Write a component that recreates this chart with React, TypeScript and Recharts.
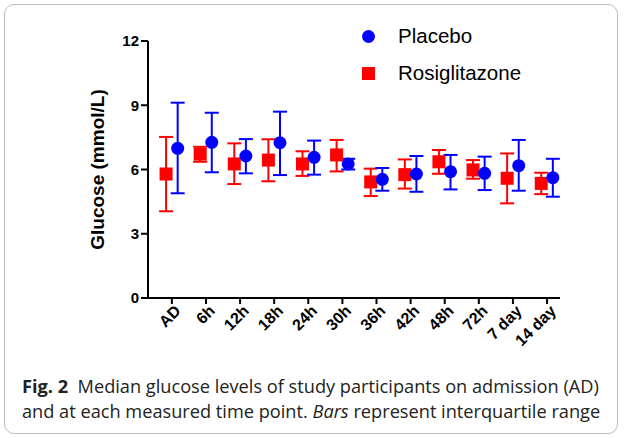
import React from "react";
import { ComposedChart, Scatter, ErrorBar, XAxis, YAxis } from "recharts";

const timePoints = ["AD", "6h", "12h", "18h", "24h", "30h", "36h", "42h", "48h", "72h", "7 day", "14 day"];

// median, lower quartile, upper quartile
const placeboMedian = [6.99, 7.27, 6.63, 7.25, 6.57, 6.26, 5.54, 5.79, 5.9, 5.82, 6.18, 5.62];
const placeboLow = [4.89, 5.87, 5.82, 5.74, 5.76, 6.0, 5.01, 4.96, 5.07, 5.04, 5.01, 4.73];
const placeboHigh = [9.12, 8.65, 7.42, 8.7, 7.35, 6.5, 6.07, 6.63, 6.68, 6.6, 7.38, 6.5];

const rosiMedian = [5.79, 6.72, 6.26, 6.44, 6.26, 6.68, 5.42, 5.76, 6.36, 5.98, 5.59, 5.35];
const rosiLow = [4.05, 6.36, 5.32, 5.45, 5.7, 5.91, 4.76, 5.11, 5.8, 5.57, 4.42, 4.85];
const rosiHigh = [7.52, 7.06, 7.22, 7.41, 6.85, 7.38, 6.04, 6.47, 6.91, 6.44, 6.75, 5.85];

const yTicks = [0, 3, 6, 9, 12];
const OFFSET = 0.17;

const placeboData = placeboMedian.map((m, i) => ({
  x: i + OFFSET, y: m, err: [m - placeboLow[i], placeboHigh[i] - m],
}));
const rosiData = rosiMedian.map((m, i) => ({
  x: i - OFFSET, y: m, err: [m - rosiLow[i], rosiHigh[i] - m],
}));

const font = "'Open Sans', Arial, sans-serif";
const chartFont = "Arial, 'Liberation Sans', sans-serif";

const Dot = (p: any) => <circle cx={p.cx} cy={p.cy} r={6.5} fill="#0000ff" />;
const Square = (p: any) => <rect x={p.cx - 6.5} y={p.cy - 6.5} width={13} height={13} fill="#ff0000" />;

const XTick = (p: any) => {
  const { x, y, payload } = p;
  const tx = x + 6;
  const ty = y + 2;
  return (
    <text x={tx} y={ty} transform={`rotate(-45 ${tx} ${ty})`} textAnchor="end"
      dominantBaseline="central" fontSize={16} fontWeight="bold" fill="#000" fontFamily={chartFont}>
      {timePoints[payload.value]}
    </text>
  );
};

export default function App() {
  return (
    <div style={{ position: "absolute", left: 0, top: 0, width: 624, height: 438, background: "#fff" }}>
      <div style={{ position: "absolute", left: 4, top: 4, width: 612, height: 428, border: "1px solid #bbb", borderRadius: 10 }} />
      <ComposedChart width={600} height={380} margin={{ top: 41, right: 40, bottom: 22, left: 0 }}
        style={{ position: "absolute", left: 0, top: 0 }}>
        <XAxis type="number" dataKey="x" domain={[-0.7, 11.38]} ticks={timePoints.map((_, i) => i)}
          allowDataOverflow interval={0} height={60} tick={<XTick />} tickSize={6}
          axisLine={{ stroke: "#000", strokeWidth: 2 }} tickLine={{ stroke: "#000", strokeWidth: 2 }} />
        <YAxis type="number" domain={[0, 12]} ticks={yTicks} width={148} tickSize={7}
          tick={{ fontSize: 15, fontWeight: "bold", fill: "#000", fontFamily: chartFont }}
          axisLine={{ stroke: "#000", strokeWidth: 2 }} tickLine={{ stroke: "#000", strokeWidth: 2 }}
          label={{ value: "Glucose (mmol/L)", angle: -90, position: "insideLeft", dx: 92,
            style: { fontSize: 19, fontWeight: "bold", fill: "#000", fontFamily: chartFont, textAnchor: "middle" } }} />
        <Scatter data={rosiData} dataKey="y" shape={<Square />} isAnimationActive={false}>
          <ErrorBar dataKey="err" direction="y" width={7} stroke="#ff0000" strokeWidth={2} />
        </Scatter>
        <Scatter data={placeboData} dataKey="y" shape={<Dot />} isAnimationActive={false}>
          <ErrorBar dataKey="err" direction="y" width={7} stroke="#0000ff" strokeWidth={2} />
        </Scatter>
      </ComposedChart>
      <div style={{ position: "absolute", left: 362, top: 23, fontFamily: chartFont, fontSize: 20.5 }}>
        <div style={{ display: "flex", alignItems: "center", height: 26 }}>
          <span style={{ width: 13, height: 13, borderRadius: "50%", background: "#0000ff", marginRight: 23 }} />Placebo
        </div>
        <div style={{ display: "flex", alignItems: "center", height: 26, marginTop: 11 }}>
          <span style={{ width: 13, height: 13, background: "#ff0000", marginRight: 23 }} />Rosiglitazone
        </div>
      </div>
      <div style={{ position: "absolute", left: 22, top: 374, width: 600, fontFamily: font, fontSize: 18.2, lineHeight: "25px", color: "#222", whiteSpace: "nowrap" }}>
        <b>Fig. 2</b>&nbsp; Median glucose levels of study participants on admission (AD)<br />
        and at each measured time point. <i>Bars</i> represent interquartile range
      </div>
    </div>
  );
}
